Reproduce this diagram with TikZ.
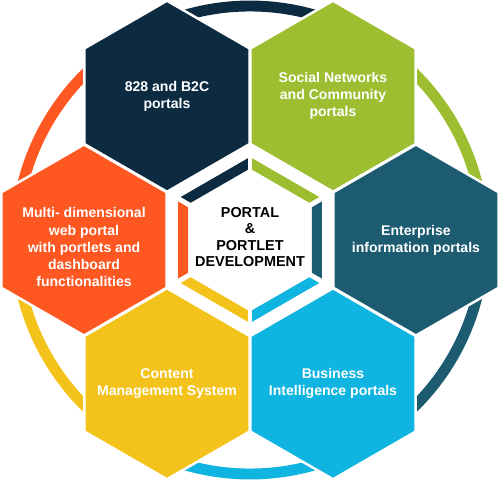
\documentclass[tikz,border=0pt]{standalone}
\usepackage{fontspec}
\setmainfont{Liberation Sans}
\usepackage{tikz}
\usepackage{xcolor}
\usetikzlibrary{shapes.geometric,positioning}

\definecolor{navyhex}{HTML}{0C2B40}
\definecolor{greenhex}{HTML}{9DBE30}
\definecolor{tealhex}{HTML}{1D5B71}
\definecolor{bluehex}{HTML}{10B4E0}
\definecolor{yellowhex}{HTML}{F4C31B}
\definecolor{orangehex}{HTML}{FE5722}

\tikzset{
	hexcell/.style={regular polygon, regular polygon sides=6, shape border rotate=30,
		minimum size=3.82cm, inner sep=0pt, draw=white, line width=1.4pt},
	hextext/.style={text=white, align=center, font=\fontsize{8}{9.7}\selectfont\bfseries},
	ringarc/.style={line width=6.2pt},
	gapline/.style={white, line width=2.8pt},
	coretext/.style={text=black, align=center, font=\fontsize{8.2}{9.4}\selectfont\bfseries}
}

\begin{document}
\begin{tikzpicture}[x=0.02cm, y=0.02cm]
			\useasboundingbox (-250,-241) rectangle (250,240);

			% outer ring
			\draw[ringarc, orangehex](180:234) arc[start angle=180, end angle=120, radius=234];
			\draw[ringarc, navyhex](120:234) arc[start angle=120, end angle=60, radius=234];
			\draw[ringarc, greenhex](60:234) arc[start angle=60, end angle=0, radius=234];
			\draw[ringarc, tealhex](0:234) arc[start angle=0, end angle=-60, radius=234];
			\draw[ringarc, bluehex](-60:234) arc[start angle=-60, end angle=-120, radius=234];
			\draw[ringarc, yellowhex](-120:234) arc[start angle=-120, end angle=-180, radius=234];

			\node[hexcell, fill=navyhex] (btob) at(120:166){};
			\node[hexcell, fill=greenhex] (social) at(60:166){};
			\node[hexcell, fill=tealhex] (enterprise) at(0:166){};
			\node[hexcell, fill=bluehex] (business) at(-60:166){};
			\node[hexcell, fill=yellowhex] (content) at(-120:166){};
			\node[hexcell, fill=orangehex] (multi) at(180:166){};

			\node[hextext] (btob-txt) at(btob){828 and B2C\\portals};
			\node[hextext] (social-txt) at(social){Social Networks\\and Community\\portals};
			\node[hextext] (enterprise-txt) at(enterprise){Enterprise\\information portals};
			\node[hextext] (business-txt) at(business){Business\\Intelligence portals};
			\node[hextext] (content-txt) at(content){Content\\Management System};
			\node[hextext] (multi-txt) at([yshift=-4]multi){Multi- dimensional\\web portal\\with portlets and\\dashboard\\functionalities};

			% inner ring
			\fill[navyhex](90:83) -- (150:83) -- (150:71.5) -- (90:71.5) -- cycle;
			\fill[greenhex](30:83) -- (90:83) -- (90:71.5) -- (30:71.5) -- cycle;
			\fill[tealhex](-30:83) -- (30:83) -- (30:71.5) -- (-30:71.5) -- cycle;
			\fill[bluehex](-90:83) -- (-30:83) -- (-30:71.5) -- (-90:71.5) -- cycle;
			\fill[yellowhex](-150:83) -- (-90:83) -- (-90:71.5) -- (-150:71.5) -- cycle;
			\fill[orangehex](150:83) -- (210:83) -- (210:71.5) -- (150:71.5) -- cycle;

			\draw[gapline](30:66) to (30:88);
			\draw[gapline](90:66) to (90:88);
			\draw[gapline](150:66) to (150:88);
			\draw[gapline](210:66) to (210:88);
			\draw[gapline](270:66) to (270:88);
			\draw[gapline](330:66) to (330:88);

			\node[coretext] (core) at(0, 3){PORTAL\\\&\\PORTLET\\DEVELOPMENT};

		\end{tikzpicture}
\end{document}
